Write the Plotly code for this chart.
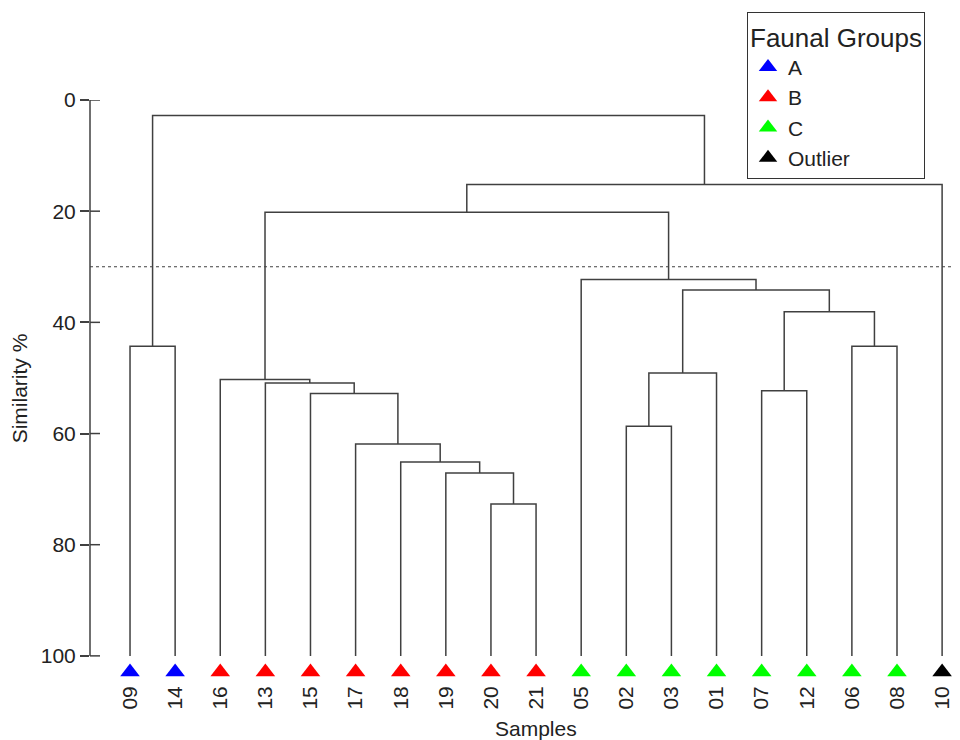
import plotly.graph_objects as go

# ---------------- data ----------------
leaves = ["09", "14", "16", "13", "15", "17", "18", "19", "20", "21",
          "05", "02", "03", "01", "07", "12", "06", "08", "10"]
leaf_groups = ["A", "A", "B", "B", "B", "B", "B", "B", "B", "B",
               "C", "C", "C", "C", "C", "C", "C", "C", "Outlier"]

# merges: (name, left child, right child, similarity %)
merge_names = ["m1", "m2", "m3", "m4", "m5", "m6", "m7", "m8", "m9",
               "m10", "m11", "m12", "m13", "m14", "m15", "m16", "m17", "m18"]
merge_left = ["20", "19", "18", "17", "15", "13", "16", "02", "m8",
              "07", "06", "m10", "m9", "05", "m7", "m15", "09", "m17"]
merge_right = ["21", "m1", "m2", "m3", "m4", "m5", "m6", "03", "01",
               "12", "08", "m11", "m12", "m13", "m14", "10", "14", "m16"]
merge_similarity = [72.7, 67.1, 65.1, 61.9, 52.8, 50.9, 50.3, 58.7, 49.1,
                    52.3, 44.3, 38.1, 34.2, 32.3, 20.2, 15.2, 44.3, 2.8]

group_names = ["A", "B", "C", "Outlier"]
group_colors = ["#0000FF", "#FF0000", "#00FF00", "#000000"]

cut_level = 30
y_ticks = [0, 20, 40, 60, 80, 100]

# ---------------- build dendrogram coordinates ----------------
pos = {lab: i + 1 for i, lab in enumerate(leaves)}
height = {lab: 100.0 for lab in leaves}
lx, ly = [], []
for name, a, b, s in zip(merge_names, merge_left, merge_right, merge_similarity):
    xa, xb = pos[a], pos[b]
    lx += [xa, xa, xb, xb, None]
    ly += [height[a], s, s, height[b], None]
    pos[name] = (xa + xb) / 2
    height[name] = s

LINE = "#404040"
fig = go.Figure()
fig.add_trace(go.Scatter(x=lx, y=ly, mode="lines",
                         line=dict(color=LINE, width=1.5),
                         hoverinfo="skip", showlegend=False))

marker_y = 102.9
for g, c in zip(group_names, group_colors):
    xs = [i + 1 for i, gg in enumerate(leaf_groups) if gg == g]
    fig.add_trace(go.Scatter(
        x=xs, y=[marker_y] * len(xs), mode="markers", name=g,
        marker=dict(symbol="triangle-up", size=17, color=c,
                    line=dict(width=0)),
        cliponaxis=False))

# cut line
fig.add_shape(type="line", xref="paper", x0=0, x1=1, yref="y",
              y0=cut_level, y1=cut_level,
              line=dict(color=LINE, width=1.2, dash="dot"))
# y axis line (0..100 only) and inner tick parts
fig.add_shape(type="line", xref="paper", x0=0, x1=0, yref="y",
              y0=0, y1=100, line=dict(color=LINE, width=1.5))
for t in y_ticks:
    fig.add_shape(type="line", xref="paper", xsizemode="pixel", xanchor=0,
                  x0=0, x1=10, yref="y", y0=t, y1=t,
                  line=dict(color=LINE, width=1.5))

FONT = "Arial, Liberation Sans, sans-serif"
fig.add_annotation(x=10, xref="x", y=0, yref="paper", yshift=-51,
                   yanchor="middle", text="Samples", showarrow=False,
                   font=dict(size=21, color="#222", family=FONT))

# the page body adds an 8px offset, so the layout is shifted up/left by 8px
fig.update_layout(
    width=960, height=740,
    margin=dict(l=82, r=11, t=92, b=71, autoexpand=False),
    paper_bgcolor="white", plot_bgcolor="white",
    font=dict(family=FONT, size=21, color="#222"),
    showlegend=True,
    legend=dict(
        title=dict(text="Faunal Groups", font=dict(size=26)),
        xref="container", yref="container",
        x=739 / 960, y=1 - 4 / 740, xanchor="left", yanchor="top",
        bordercolor="#333", borderwidth=1, bgcolor="white",
        font=dict(size=21), tracegroupgap=0),
    xaxis=dict(range=[0.113, 19.33], tickmode="array",
               tickvals=list(range(1, len(leaves) + 1)), ticktext=leaves,
               tickangle=-90, ticks="", ticklabelstandoff=4,
               showline=False, showgrid=False,
               zeroline=False, tickfont=dict(size=21), automargin=False),
    yaxis=dict(range=[103.8, 0], tickmode="array", tickvals=y_ticks,
               ticks="outside", ticklen=9, tickwidth=1.5, tickcolor=LINE,
               showline=False, showgrid=False, zeroline=False,
               tickfont=dict(size=21), automargin=False,
               title=dict(text="Similarity %", font=dict(size=21), standoff=8)),
)

fig.write_html("out.html")
